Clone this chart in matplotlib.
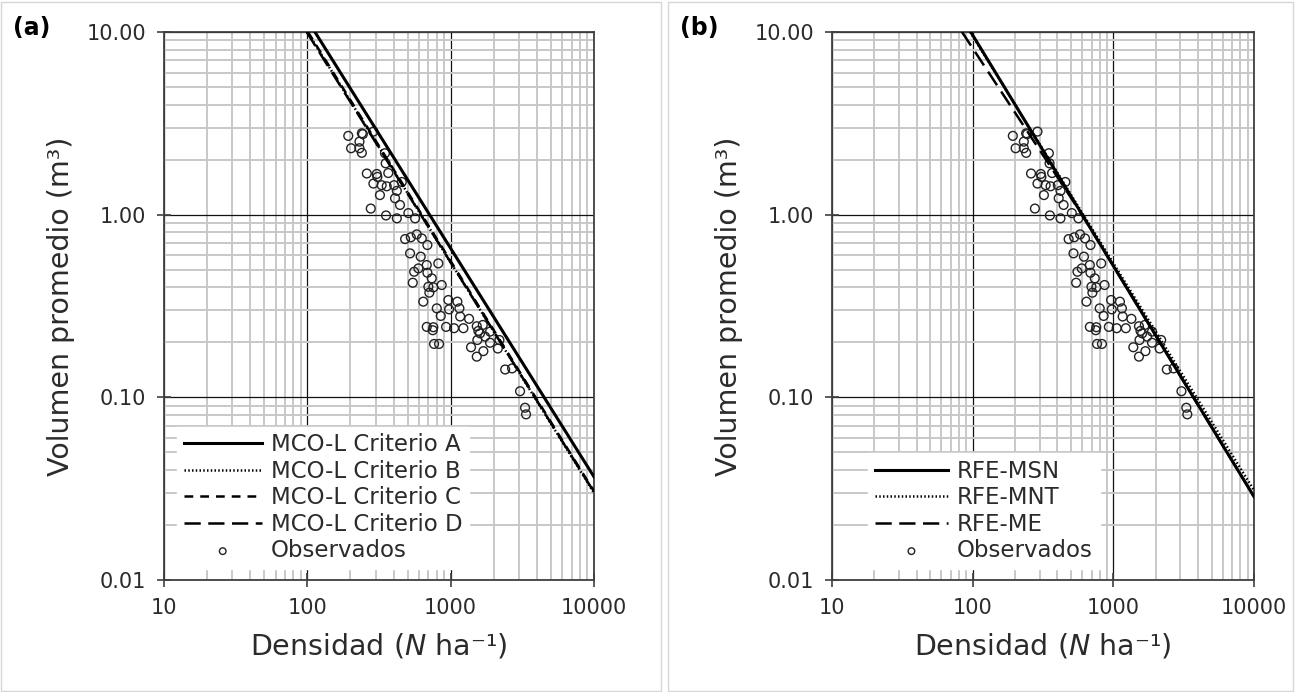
import matplotlib
matplotlib.use("Agg")
import matplotlib.pyplot as plt
from matplotlib.ticker import LogLocator, NullFormatter
from matplotlib.patches import Rectangle

plt.rcParams["font.family"] = ["DejaVu Sans"]
plt.rcParams["mathtext.fontset"] = "dejavusans"

# datos observados (los mismos en los dos paneles)
obs_n = [193, 240, 244, 289, 231, 202, 231, 240, 348, 352, 260, 305, 308, 367,
         289, 330, 358, 403, 456, 421, 321, 409, 443, 277, 354, 421, 507, 565,
         481, 527, 580, 629, 688, 521, 618, 681, 820, 596, 556, 688, 738, 544,
         699, 757, 866, 710, 644, 964, 1114, 800, 975, 1151, 853, 1165, 1344,
         681, 757, 750, 929, 1056, 1227, 1521, 1675, 1560, 1603, 1883, 1738,
         1535, 1883, 2188, 1387, 1691, 2133, 1521, 766, 830, 2400, 2682, 3049,
         3303, 3357]
obs_v = [2.70, 2.79, 2.76, 2.85, 2.51, 2.31, 2.31, 2.18, 2.17, 1.91, 1.68, 1.67,
         1.61, 1.69, 1.48, 1.45, 1.43, 1.45, 1.51, 1.35, 1.28, 1.23, 1.13, 1.08,
         0.99, 0.955, 1.02, 0.955, 0.735, 0.752, 0.780, 0.741, 0.682, 0.614,
         0.589, 0.530, 0.541, 0.508, 0.487, 0.481, 0.448, 0.424, 0.403, 0.400,
         0.412, 0.374, 0.334, 0.341, 0.334, 0.307, 0.303, 0.307, 0.279, 0.277,
         0.269, 0.243, 0.242, 0.233, 0.243, 0.239, 0.239, 0.245, 0.249, 0.231,
         0.224, 0.229, 0.215, 0.206, 0.199, 0.206, 0.188, 0.179, 0.185, 0.167,
         0.196, 0.196, 0.142, 0.144, 0.108, 0.0877, 0.0807]

crit_a_n = [113, 10000]
crit_a_v = [10.0, 0.0367]
crit_b_n = [100, 10000]
crit_b_v = [10.0, 0.0300]
crit_c_n = [101, 10000]
crit_c_v = [10.0, 0.0306]
crit_d_n = [99, 10000]
crit_d_v = [10.0, 0.0303]

# (b) lineas RFE
msn_n = [97, 10000]
msn_v = [10.0, 0.0286]
mnt_n = [96, 10000]
mnt_v = [10.0, 0.0310]
me_n = [84, 600, 10000]
me_v = [10.0, 1.0, 0.0286]

xticks = [10, 100, 1000, 10000]
xtick_labels = ["10", "100", "1000", "10000"]
yticks = [0.01, 0.1, 1, 10]
ytick_labels = ["0.01", "0.10", "1.00", "10.00"]

W, H = 1295, 692
fig = plt.figure(figsize=(W / 100, H / 100), dpi=100)

# marcos grises de cada panel
fig.add_artist(Rectangle((1 / W, 1 / H), 660 / W, 689 / H, transform=fig.transFigure,
                         fill=False, ec="#d6d6d6", lw=1))
fig.add_artist(Rectangle((668 / W, 1 / H), 625 / W, 689 / H, transform=fig.transFigure,
                         fill=False, ec="#d6d6d6", lw=1))

ax_a = fig.add_axes([164 / W, (H - 580) / H, 430 / W, 548 / H])
ax_b = fig.add_axes([832 / W, (H - 580) / H, 422 / W, 548 / H])

dark = "#2b2b2b"

for ax in (ax_a, ax_b):
    ax.set_xscale("log")
    ax.set_yscale("log")
    ax.set_xlim(10, 10000)
    ax.set_ylim(0.01, 10)
    ax.set_xticks(xticks, labels=xtick_labels)
    ax.set_yticks(yticks, labels=ytick_labels)
    ax.xaxis.set_minor_locator(LogLocator(base=10, subs=range(2, 10)))
    ax.yaxis.set_minor_locator(LogLocator(base=10, subs=range(2, 10)))
    ax.xaxis.set_minor_formatter(NullFormatter())
    ax.yaxis.set_minor_formatter(NullFormatter())
    ax.grid(which="minor", color="#c8c8c8", lw=1.4)
    ax.grid(which="major", color="#111111", lw=0.9)
    ax.set_axisbelow(True)
    ax.tick_params(which="major", direction="inout", length=10, width=1.2,
                   colors="#404040", labelcolor=dark, labelsize=15)
    ax.tick_params(axis="x", which="major", pad=8)
    ax.tick_params(axis="y", which="major", pad=8)
    ax.tick_params(which="minor", length=0)
    for s in ax.spines.values():
        s.set_color("#404040")
        s.set_linewidth(1.3)
    ax.set_xlabel("Densidad ($N$ ha\u207b\u00b9)", fontsize=20.5, color=dark, labelpad=10)
    ax.set_ylabel("Volumen promedio (m\u00b3)", fontsize=20.5, color=dark, labelpad=8)
    ax.scatter(obs_n, obs_v, s=40, facecolors="none", edgecolors="#222222",
               linewidths=1.0, zorder=3, label="Observados")

# panel (a)
ax_a.plot(crit_a_n, crit_a_v, color="black", lw=2.2, label="MCO-L Criterio A", zorder=4)
ax_a.plot(crit_b_n, crit_b_v, color="black", lw=1.8, ls=(0, (0.6, 0.9)),
          label="MCO-L Criterio B", zorder=4)
ax_a.plot(crit_c_n, crit_c_v, color="black", lw=1.8, ls=(0, (3.5, 2.8)),
          label="MCO-L Criterio C", zorder=4)
ax_a.plot(crit_d_n, crit_d_v, color="black", lw=1.8, ls=(0, (6.5, 3)),
          label="MCO-L Criterio D", zorder=4)

# panel (b)
ax_b.plot(msn_n, msn_v, color="black", lw=2.2, label="RFE-MSN", zorder=4)
ax_b.plot(mnt_n, mnt_v, color="black", lw=1.8, ls=(0, (0.6, 0.9)),
          label="RFE-MNT", zorder=4)
ax_b.plot(me_n, me_v, color="black", lw=1.8, ls=(0, (6.5, 3)),
          label="RFE-ME", zorder=4)

for ax, anchor, hl in ((ax_a, (0.03, 0.02), 3.4), (ax_b, (0.085, 0.02), 3.2)):
    handles, labels = ax.get_legend_handles_labels()
    handles = handles[1:] + handles[:1]
    labels = labels[1:] + labels[:1]
    leg = ax.legend(handles, labels, loc="lower left", bbox_to_anchor=anchor,
                    borderaxespad=0, frameon=True, fancybox=False, framealpha=1,
                    edgecolor="white", fontsize=16.5, handlelength=hl,
                    handletextpad=0.4, labelspacing=0.15, borderpad=0.3,
                    markerscale=0.75)
    for t in leg.get_texts():
        t.set_color(dark)

fig.text(13 / W, 1 - 28 / H, "(a)", fontsize=17, fontweight="bold", va="center", ha="left")
fig.text(680 / W, 1 - 28 / H, "(b)", fontsize=17, fontweight="bold", va="center", ha="left")

fig.savefig("out.png", dpi=100)
